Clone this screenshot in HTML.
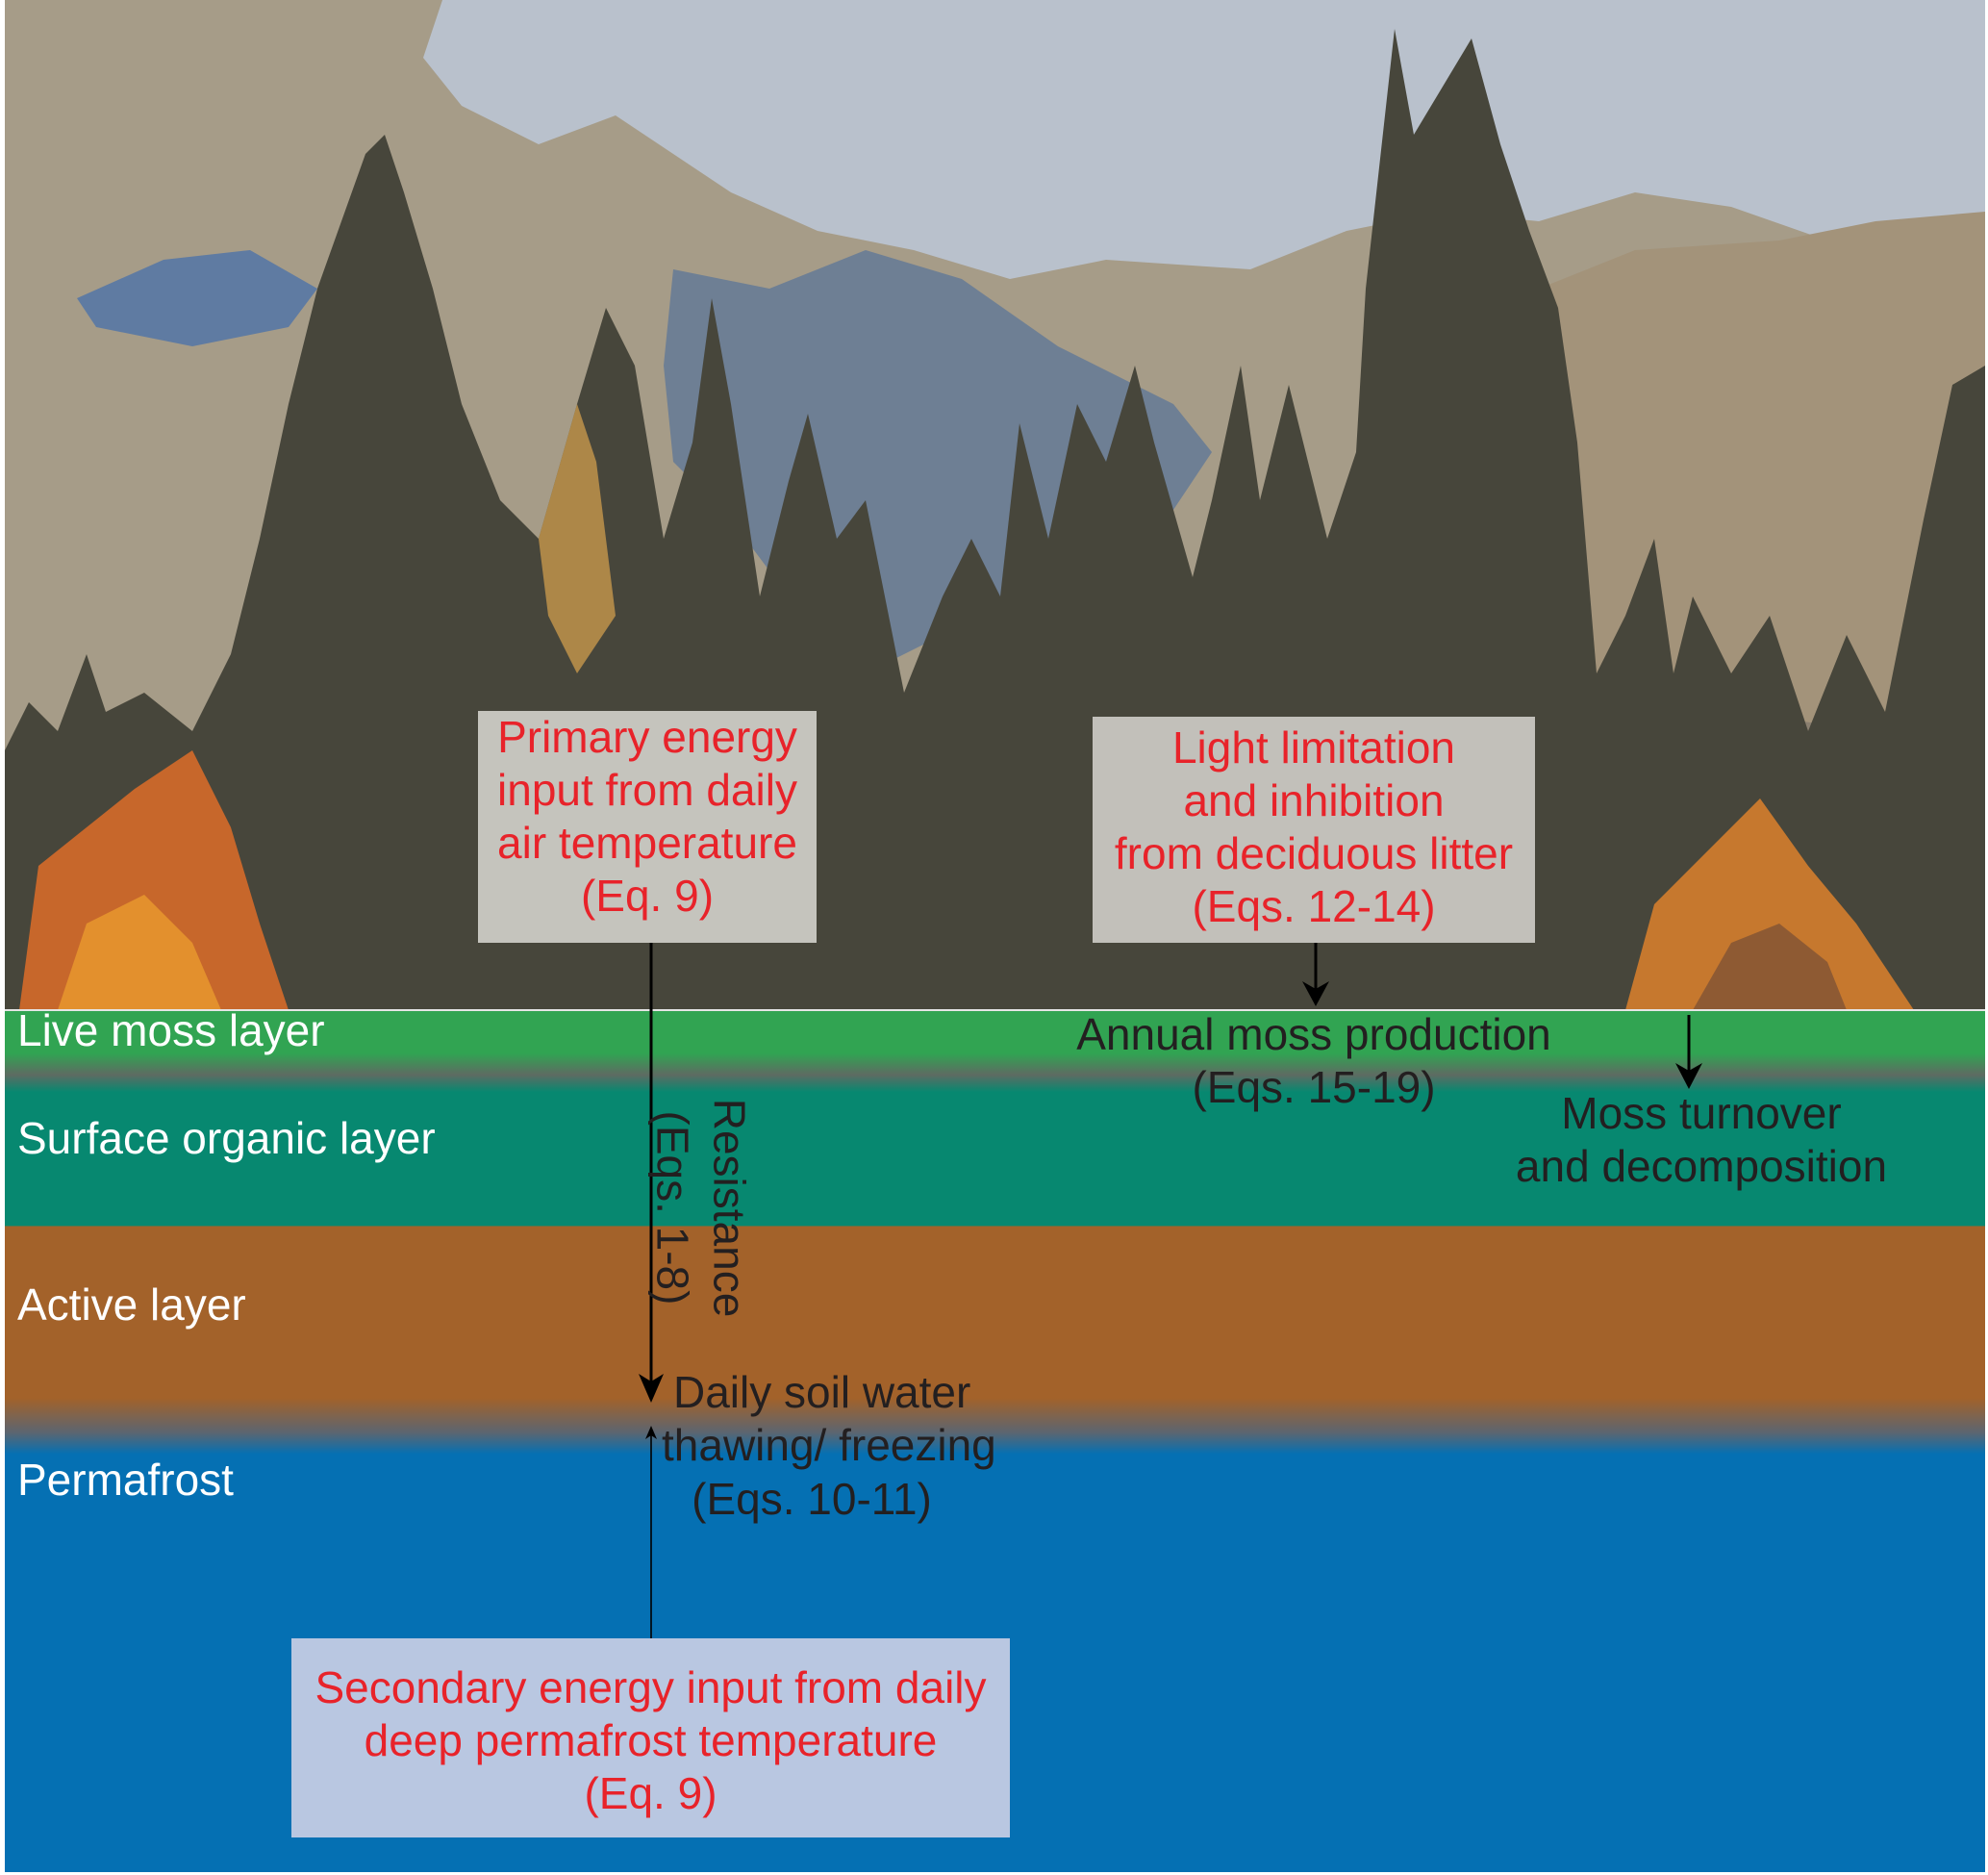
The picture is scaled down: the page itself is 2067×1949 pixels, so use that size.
<!DOCTYPE html>
<html><head><meta charset="utf-8"><style>
html,body{margin:0;padding:0;background:#fff;}
#c{position:relative;width:2067px;height:1949px;overflow:hidden;background:#fff;font-family:"Liberation Sans",sans-serif;}
.t{position:absolute;white-space:nowrap;font-size:46px;line-height:55px;}
.w{color:#fff;left:18px;}
.k{color:#231f20;}
.r{color:#e8232a;text-align:center;}
</style></head><body><div id="c">
<svg width="2067" height="1949" style="position:absolute;left:0;top:0">
<defs>
<linearGradient id="g" gradientUnits="userSpaceOnUse" x1="0" y1="1050" x2="0" y2="1946">
<stop offset="0" stop-color="#31a452"/>
<stop offset="0.05" stop-color="#31a452"/>
<stop offset="0.075" stop-color="#5e6b62"/>
<stop offset="0.095" stop-color="#078870"/>
<stop offset="0.25" stop-color="#078870"/>
<stop offset="0.251" stop-color="#a3622a"/>
<stop offset="0.45" stop-color="#a3622a"/>
<stop offset="0.49" stop-color="#5c6570"/>
<stop offset="0.515" stop-color="#0570b3"/>
<stop offset="1" stop-color="#0570b3"/>
</linearGradient>
</defs>
<rect x="5" y="0" width="2059" height="1050" fill="#a69c88"/>
<path d="M460 0 L2064 0 L2064 240 L1980 230 L1900 250 L1800 215 L1700 200 L1600 230 L1500 220 L1400 240 L1300 280 L1150 270 L1050 290 L950 260 L850 240 L760 200 L700 160 L640 120 L560 150 L480 110 L440 60 Z" fill="#b9c1cc"/>
<path d="M2064 220 L2064 1050 L1600 1050 L1600 300 L1700 260 L1850 250 L1950 230 Z" fill="#a3937a"/>
<path d="M700 280 L800 300 L900 260 L1000 290 L1100 360 L1220 420 L1260 470 L1200 560 L1100 620 L980 660 L900 700 L820 620 L760 540 L700 480 L690 380 Z" fill="#6e7f94"/>
<path d="M80 310 L170 270 L260 260 L330 300 L300 340 L200 360 L100 340 Z" fill="#5f7ba2"/>
<path d="M1650 780 L1800 740 L1950 760 L2000 860 L1900 920 L1700 900 Z" fill="#8a7f70"/>
<path d="M5 780 L30 730 L60 760 L90 680 L110 740 L150 720 L200 760 L240 680 L270 560 L300 420 L330 300 L380 160 L400 140 L420 200 L450 300 L480 420 L520 520 L560 560 L600 420 L630 320 L660 380 L690 560 L720 460 L740 310 L760 420 L790 620 L820 500 L840 430 L870 560 L900 520 L940 720 L980 620 L1010 560 L1040 620 L1060 440 L1090 560 L1120 420 L1150 480 L1180 380 L1200 460 L1240 600 L1260 520 L1290 380 L1310 520 L1340 400 L1380 560 L1410 470 L1420 300 L1440 120 L1450 30 L1470 140 L1500 90 L1530 40 L1560 150 L1590 240 L1620 320 L1640 460 L1660 700 L1690 640 L1720 560 L1740 700 L1760 620 L1800 700 L1840 640 L1880 760 L1920 660 L1960 740 L2000 540 L2030 400 L2064 380 L2064 1050 L5 1050 Z" fill="#47463b"/>
<path d="M20 1050 L40 900 L90 860 L140 820 L200 780 L240 860 L270 960 L300 1050 Z" fill="#c7672b"/>
<path d="M60 1050 L90 960 L150 930 L200 980 L230 1050 Z" fill="#e3902d"/>
<path d="M1690 1050 L1720 940 L1780 880 L1830 830 L1880 900 L1930 960 L1990 1050 Z" fill="#c6782e"/>
<path d="M1760 1050 L1800 980 L1850 960 L1900 1000 L1920 1050 Z" fill="#8e5a33"/>
<path d="M560 560 L600 420 L620 480 L640 640 L600 700 L570 640 Z" fill="#d9a24e" opacity="0.7"/>
<rect x="5" y="1050" width="2059" height="896" fill="url(#g)"/>
<line x1="5" y1="1050" x2="2064" y2="1050" stroke="#e5e5e5" stroke-width="2"/>
<rect x="497" y="739" width="352" height="241" fill="#dcdad5" opacity="0.85"/>
<rect x="1136" y="745" width="460" height="235" fill="#cfcdc9" opacity="0.9"/>
<rect x="303" y="1703" width="747" height="207" fill="#b9c7e1"/>
<line x1="677" y1="980" x2="677" y2="1440" stroke="#000" stroke-width="3"/>
<path d="M664 1428 L677 1458 L690 1428 L677 1436 Z" fill="#000"/>
<line x1="677" y1="1703" x2="677" y2="1490" stroke="#000" stroke-width="1.6"/>
<path d="M671 1496 L677 1482 L683 1496 L677 1492 Z" fill="#000"/>
<line x1="1368" y1="980" x2="1368" y2="1030" stroke="#000" stroke-width="3"/>
<path d="M1354 1020 L1368 1046 L1382 1020 L1368 1028 Z" fill="#000"/>
<line x1="1756" y1="1055" x2="1756" y2="1115" stroke="#000" stroke-width="3"/>
<path d="M1742 1105 L1756 1132 L1770 1105 L1756 1113 Z" fill="#000"/>
</svg>

<div class="t w" style="top:1044px">Live moss layer</div>
<div class="t w" style="top:1156px">Surface organic layer</div>
<div class="t w" style="top:1329px">Active layer</div>
<div class="t w" style="top:1511px">Permafrost</div>

<div class="t r" style="left:467px;width:412px;top:739px">Primary energy<br>input from daily<br>air temperature<br>(Eq. 9)</div>
<div class="t r" style="left:1106px;width:520px;top:750px">Light limitation<br>and inhibition<br>from deciduous litter<br>(Eqs. 12-14)</div>
<div class="t r" style="left:263px;width:827px;top:1727px">Secondary energy input from daily<br>deep permafrost temperature<br>(Eq. 9)</div>

<div class="t k" style="left:1066px;width:600px;text-align:center;top:1048px">Annual moss production<br>(Eqs. 15-19)</div>
<div class="t k" style="left:1469px;width:600px;text-align:center;top:1130px">Moss turnover<br>and decomposition</div>
<div class="t k" style="left:700px;top:1420px">Daily soil water</div>
<div class="t k" style="left:688px;top:1475px">thawing/ freezing</div>
<div class="t k" style="left:644px;width:400px;text-align:center;top:1531px">(Eqs. 10-11)</div>
<div class="t k" style="left:578px;width:360px;text-align:center;top:1228px;transform:rotate(90deg)">Resistance</div>
<div class="t k" style="left:519px;width:360px;text-align:center;top:1228px;transform:rotate(90deg)">(Eqs. 1-8)</div>
</div></body></html>
